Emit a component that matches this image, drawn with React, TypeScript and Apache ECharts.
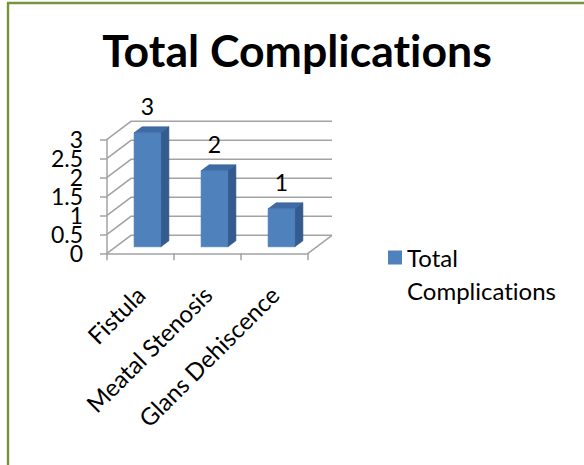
import React, { useEffect, useRef } from "react";
import * as echarts from "echarts";

// Chart content
const titleText = "Total Complications";
const seriesName = "Total Complications";
const categories = ["Fistula", "Meatal Stenosis", "Glans Dehiscence"];
const complications = [3, 2, 1];
const yTicks = [0, 0.5, 1, 1.5, 2, 2.5, 3];

// Pseudo-3D geometry (pixels)
const WALL_DX = 24;
const WALL_DY = -18;
const BAR_FRONT_DX = 7;
const BAR_FRONT_DY = -6.5;
const BAR_DEPTH_DX = 8;
const BAR_DEPTH_DY = -6;
const BAR_WIDTH_RATIO = 0.4;
const Y_LABEL_GAP = 24;

const FONT = "Lato, 'Noto Sans', sans-serif";
const GRID_COLOR = "#A3A3A3";

// Lato's "ti" ligature is switched off so words keep their plain letterforms.
const textCss = "svg text{font-variant-ligatures:none !important;font-feature-settings:'liga' 0,'clig' 0 !important;}";

export default function App() {
  const ref = useRef<HTMLDivElement>(null);

  useEffect(() => {
    if (!ref.current) return;
    const chart = echarts.init(ref.current, null, { renderer: "svg" });

    const option: any = {
      animation: false,
      backgroundColor: "#ffffff",
      title: {
        text: titleText,
        left: 292,
        top: 22,
        textAlign: "center",
        textStyle: {
          fontFamily: FONT,
          fontWeight: "bold",
          fontSize: 44.6,
          color: "#000000",
        },
      },
      legend: {
        data: [seriesName],
        left: 388,
        top: 212.5,
        padding: 0,
        icon: "rect",
        itemWidth: 14,
        itemHeight: 14,
        // an empty leading line keeps the first word level with the swatch
        formatter: (name: string) => {
          const [first, ...rest] = name.split(" ");
          return "{s| }\n{t|" + first + "}\n{t|" + rest.join(" ") + "}";
        },
        textStyle: {
          fontFamily: FONT,
          fontSize: 24,
          color: "#000000",
          rich: {
            s: { fontFamily: FONT, fontSize: 24, lineHeight: 33 },
            t: { fontFamily: FONT, fontSize: 24, lineHeight: 33, color: "#000000" },
          },
        },
      },
      grid: {
        left: 107,
        top: 139.3,
        width: 201,
        height: 114,
        containLabel: false,
      },
      xAxis: {
        type: "category",
        data: categories,
        boundaryGap: true,
        axisLine: { show: true, lineStyle: { color: GRID_COLOR, width: 1.5 } },
        axisTick: {
          show: true,
          length: 7,
          alignWithLabel: false,
          lineStyle: { color: GRID_COLOR, width: 1.5 },
        },
        axisLabel: {
          interval: 0,
          rotate: 45,
          margin: 37,
          fontFamily: FONT,
          fontSize: 24,
          color: "#000000",
        },
        splitLine: { show: false },
      },
      yAxis: {
        type: "value",
        min: 0,
        max: 3,
        interval: 0.5,
        axisLine: { show: true, lineStyle: { color: GRID_COLOR, width: 1.5 } },
        axisTick: { show: true, length: 7, lineStyle: { color: GRID_COLOR, width: 1.5 } },
        // tick values are written by the wall series so every one stays visible
        axisLabel: { show: false },
        splitLine: { show: false },
      },
      graphic: [
        {
          type: "rect",
          silent: true,
          z: 100,
          shape: { x: 8, y: 3, width: 800, height: 800 },
          style: { fill: "none", stroke: "#77933C", lineWidth: 2.4 },
        },
      ],
      series: [
        {
          // back wall, side wall and floor lines plus the value label, one item per tick
          type: "custom",
          name: "walls",
          silent: true,
          z: 1,
          data: yTicks.map((v) => [0, v]),
          renderItem: (params: any, api: any) => {
            const cs = params.coordSys;
            const v = api.value(1);
            const y = api.coord([0, v])[1];
            const left = cs.x;
            const right = cs.x + cs.width;
            const lineStyle = { stroke: GRID_COLOR, lineWidth: 1.5, fill: "none" };
            const children: any[] = [
              {
                type: "polyline",
                shape: {
                  points: [
                    [left, y],
                    [left + WALL_DX, y + WALL_DY],
                    [right + WALL_DX, y + WALL_DY],
                  ],
                },
                style: lineStyle,
              },
              {
                type: "text",
                style: {
                  x: left - Y_LABEL_GAP,
                  y: y,
                  text: String(v),
                  align: "right",
                  verticalAlign: "middle",
                  fontFamily: FONT,
                  fontSize: 23,
                  lineHeight: 17,
                  fill: "#000000",
                },
              },
            ];
            if (v === 0) {
              children.push({
                type: "line",
                shape: { x1: right, y1: y, x2: right + WALL_DX, y2: y + WALL_DY },
                style: lineStyle,
              });
            }
            return { type: "group", children };
          },
        },
        {
          type: "custom",
          name: seriesName,
          z: 3,
          itemStyle: { color: "#4F81BD" },
          data: complications.map((v, i) => [i, v]),
          renderItem: (params: any, api: any) => {
            const idx = api.value(0);
            const v = api.value(1);
            const base = api.coord([idx, 0]);
            const top = api.coord([idx, v]);
            const band = api.size([1, 0])[0];
            const w = band * BAR_WIDTH_RATIO;
            const x0 = base[0] - w / 2 + BAR_FRONT_DX;
            const x1 = x0 + w;
            const yb = base[1] + BAR_FRONT_DY;
            const yt = top[1] + BAR_FRONT_DY;
            const dx = BAR_DEPTH_DX;
            const dy = BAR_DEPTH_DY;
            return {
              type: "group",
              children: [
                {
                  type: "polygon",
                  shape: {
                    points: [
                      [x1, yt],
                      [x1 + dx, yt + dy],
                      [x1 + dx, yb + dy],
                      [x1, yb],
                    ],
                  },
                  style: { fill: "#345B8E", stroke: "#2E5180", lineWidth: 0.6 },
                },
                {
                  type: "polygon",
                  shape: {
                    points: [
                      [x0, yt],
                      [x0 + dx, yt + dy],
                      [x1 + dx, yt + dy],
                      [x1, yt],
                    ],
                  },
                  style: { fill: "#3E6AA6", stroke: "#345B8E", lineWidth: 0.6 },
                },
                {
                  type: "rect",
                  shape: { x: x0, y: yt, width: w, height: yb - yt },
                  style: { fill: "#4F81BD", stroke: "#4473AE", lineWidth: 0.6 },
                },
                {
                  type: "text",
                  style: {
                    x: x0 + w / 2,
                    y: yt - 27,
                    text: String(v),
                    align: "center",
                    verticalAlign: "middle",
                    fontFamily: FONT,
                    fontSize: 23,
                    fill: "#000000",
                  },
                },
              ],
            };
          },
        },
      ],
    };

    chart.setOption(option);
    return () => {
      chart.dispose();
    };
  }, []);

  return (
    <>
      <style>{textCss}</style>
      <div
        ref={ref}
        style={{ position: "fixed", left: 0, top: 0, width: 584, height: 465, background: "#fff" }}
      />
    </>
  );
}
